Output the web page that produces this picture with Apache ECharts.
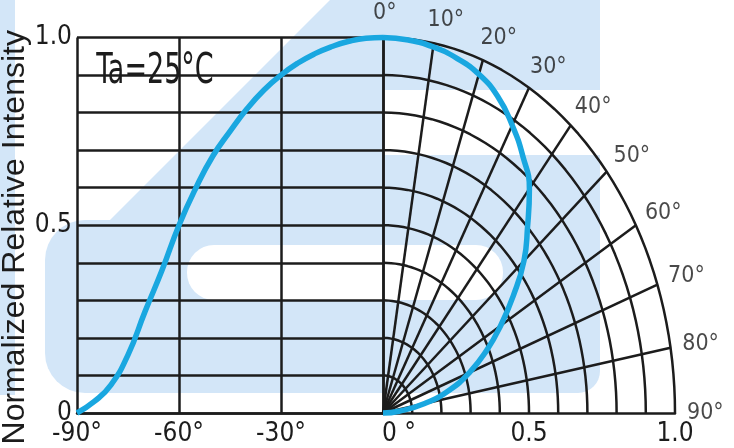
<!DOCTYPE html>
<html>
<head>
<meta charset="utf-8">
<script src="https://cdn.jsdelivr.net/npm/echarts/dist/echarts.min.js"></script>
<style>
  html, body { margin: 0; padding: 0; background: #fff; }
  #chart { width: 734px; height: 448px; }
</style>
</head>
<body>
<div id="chart"></div>
<script>
// left half: intensity vs angle (deg)
const leftAngles = [-90, -85, -80, -75, -70, -65, -60, -55, -50, -45, -40, -35, -30, -25, -20, -15, -10, -5, 0];
const leftIntensity = [0, 0.03, 0.075, 0.155, 0.27, 0.38, 0.5, 0.6, 0.685, 0.75, 0.81, 0.86, 0.9, 0.932, 0.957, 0.976, 0.99, 0.998, 1.0];

// right half: polar pattern, angle from axis (deg) and radius
const rightAngles = [0, 5, 10, 15, 20, 25, 30, 35, 40, 45, 50, 55, 60, 65, 70, 75, 80, 85, 90];
const rightIntensity = [1.0, 0.997, 0.99, 0.978, 0.96, 0.93, 0.885, 0.835, 0.78, 0.7, 0.63, 0.545, 0.465, 0.39, 0.315, 0.235, 0.145, 0.055, 0];

// polar grid
const ringRadii = [0.1, 0.2, 0.3, 0.4, 0.5, 0.6, 0.7, 0.8, 0.9, 1.0];
const spokeAngles = [10, 20, 30, 40, 50, 60, 70, 80];
const angleTicks = [0, 10, 20, 30, 40, 50, 60, 70, 80, 90];

const INK = '#1c1c1c';
const BLUE = '#19a7e0';
const WASH = '#d3e6f8';   // faint logo watermark behind the plot
const NARROW = "'Liberation Sans Narrow', 'DejaVu Sans Condensed', 'Liberation Sans', sans-serif";

const rad = d => d * Math.PI / 180;
const toXY = (deg, r) => [r * Math.sin(rad(deg)), r * Math.cos(rad(deg))];

const gridLine = { color: INK, width: 2.5 };

function arcSeries(r) {
  const pts = [];
  for (let a = 0; a <= 90; a += 2) pts.push(toXY(a, r));
  return {
    type: 'line', xAxisIndex: 1, yAxisIndex: 1, data: pts,
    showSymbol: false, silent: true, clip: false, z: 2,
    lineStyle: gridLine
  };
}

function spokeSeries(a) {
  return {
    type: 'line', xAxisIndex: 1, yAxisIndex: 1,
    data: [[0, 0], toXY(a, 1)],
    showSymbol: false, silent: true, clip: false, z: 2,
    lineStyle: gridLine
  };
}

const chart = echarts.init(document.getElementById('chart'));

const option = {
  backgroundColor: '#fff',
  animation: false,
  grid: [
    { left: 77, top: 37.5, width: 306, height: 375.5, outerBoundsMode: 'none' },
    { left: 383, top: 37.5, width: 292, height: 375.5, outerBoundsMode: 'none' }
  ],
  xAxis: [
    {
      type: 'value', gridIndex: 0, min: -90, max: 0, interval: 30,
      axisLine: { show: true, lineStyle: gridLine },
      axisTick: { show: false },
      splitLine: { show: true, lineStyle: gridLine },
      axisLabel: {
        margin: 8, color: INK, fontSize: 26, fontFamily: NARROW,
        formatter: v => (v === 0 ? '' : v + '°')
      }
    },
    {
      type: 'value', gridIndex: 1, min: 0, max: 1, interval: 0.5,
      axisLine: { show: true, lineStyle: gridLine },
      axisTick: { show: false },
      splitLine: { show: false },
      axisLabel: {
        margin: 8, color: INK, fontSize: 26, fontFamily: NARROW,
        formatter: v => (v === 0 ? '{z|0 °}' : v.toFixed(1)),
        rich: { z: { fontSize: 26, fontFamily: NARROW, color: INK, padding: [0, 0, 0, 32] } }
      }
    }
  ],
  yAxis: [
    {
      type: 'value', gridIndex: 0, min: 0, max: 1, interval: 0.1,
      axisLine: { show: true, lineStyle: gridLine },
      axisTick: { show: false },
      splitLine: { show: true, lineStyle: gridLine },
      axisLabel: {
        margin: 5, color: INK, fontSize: 26, fontFamily: NARROW,
        formatter: v => {
          if (Math.abs(v) < 1e-6) return '0';
          if (Math.abs(v - 0.5) < 1e-6) return '0.5';
          if (Math.abs(v - 1) < 1e-6) return '1.0';
          return '';
        }
      },
      name: 'Normalized Relative Intensity',
      nameLocation: 'middle', nameRotate: 90, nameGap: 46,
      nameTextStyle: { color: INK, fontSize: 32, fontFamily: "'Liberation Sans', Arial, sans-serif", padding: [0, 24, 0, 0] }
    },
    { type: 'value', gridIndex: 1, min: 0, max: 1, show: false }
  ],
  graphic: [
    {
      // watermark, kept behind everything
      type: 'group', z: -10, silent: true,
      children: [
        { type: 'rect', shape: { x: 0, y: 0, width: 15, height: 395 }, style: { fill: WASH } },
        { type: 'polygon', shape: { points: [[110, 220], [330, 0], [600, 0], [600, 90], [383, 90], [383, 220]] }, style: { fill: WASH } },
        { type: 'rect', shape: { x: 45, y: 220, width: 555, height: 173, r: [40, 0, 22, 40] }, style: { fill: WASH } },
        { type: 'rect', shape: { x: 383, y: 155, width: 217, height: 70 }, style: { fill: WASH } },
        { type: 'rect', shape: { x: 187, y: 245, width: 316, height: 55, r: 27 }, style: { fill: '#fff' } }
      ]
    },
    {
      type: 'group', z: 50,
      children: [
        { type: 'rect', shape: { x: 92, y: 45, width: 126, height: 53 }, style: { fill: '#fff' } },
        {
          type: 'text', x: 155, y: 72, scaleY: 1.4,
          style: { text: 'Ta=25°C', fill: INK, fontSize: 30, fontFamily: NARROW, textAlign: 'center', textVerticalAlign: 'middle' }
        }
      ]
    }
  ],
  series: [
    ...ringRadii.map(arcSeries),
    ...spokeAngles.map(spokeSeries),
    {
      name: 'angle labels', type: 'scatter', xAxisIndex: 1, yAxisIndex: 1,
      symbolSize: 0, silent: true, z: 3,
      data: angleTicks.map(a => ({
        value: toXY(a, 1),
        label: {
          show: true, position: 'right', distance: 0,
          offset: [22 * Math.sin(rad(a)) - 10, -24 * Math.cos(rad(a))],
          formatter: a + '°', color: INK, fontSize: 23, fontFamily: NARROW
        }
      }))
    },
    {
      name: 'left', type: 'line', xAxisIndex: 0, yAxisIndex: 0,
      data: leftAngles.map((a, i) => [a, leftIntensity[i]]),
      smooth: true, showSymbol: false, clip: false, z: 10,
      lineStyle: { color: BLUE, width: 5.5 }
    },
    {
      name: 'right', type: 'line', xAxisIndex: 1, yAxisIndex: 1,
      data: rightAngles.map((a, i) => toXY(a, rightIntensity[i])),
      smooth: true, showSymbol: false, clip: false, z: 10,
      lineStyle: { color: BLUE, width: 5.5 }
    }
  ]
};

chart.setOption(option);
</script>
</body>
</html>
